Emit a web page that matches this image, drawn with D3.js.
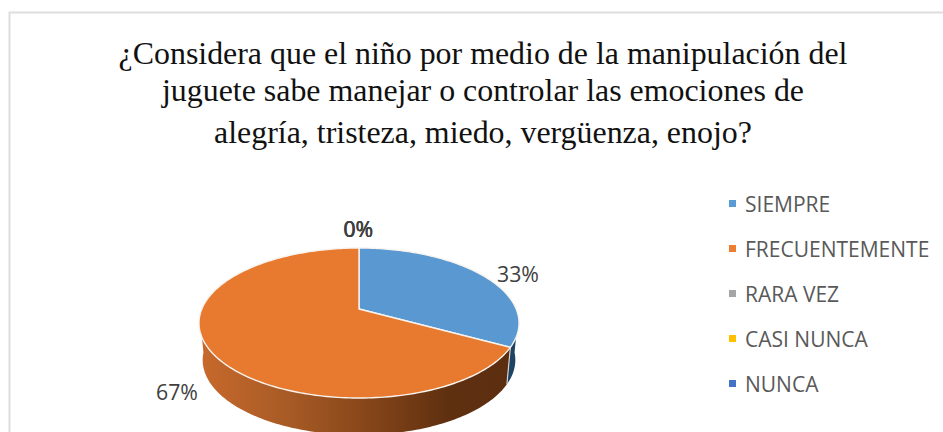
<!DOCTYPE html>
<html><head><meta charset="utf-8">
<script src="https://cdn.jsdelivr.net/npm/d3@7"></script>
<style>html,body{margin:0;padding:0;background:#fff;overflow:hidden}svg{display:block}</style>
</head><body><svg id="c" width="943" height="432"></svg>
<script>
const titleLines = ["¿Considera que el niño por medio de la manipulación del","juguete sabe manejar o controlar las emociones de","alegría, tristeza, miedo, vergüenza, enojo?"];
const categories = ["SIEMPRE","FRECUENTEMENTE","RARA VEZ","CASI NUNCA","NUNCA"];
const values = [33,67,0,0,0];
const colors = ["#5b9bd5","#ed7d31","#a5a5a5","#ffc000","#4472c4"];

const svg = d3.select("#c");
const cx = 359, apexY = 309, R = 157.2, A = 72.4, k = -0.1867, depth = 37, lowScale = 0.977;

function proj(a, h) {
  const x = Math.sin(a), y = -Math.cos(a), d = 1 + k * y;
  return [cx + R * (h ? lowScale : 1) * x / d, apexY + A * y / d + (h ? depth : 0)];
}
function arcPts(a0, a1, h) {
  const n = Math.max(2, Math.ceil(Math.abs(a1 - a0) / 0.02));
  return d3.range(n + 1).map(i => proj(a0 + (a1 - a0) * i / n, h));
}
const line = d3.line();
const arcs = d3.pie().sort(null).value(d => d)(values);

svg.append("rect").attr("x", 9.5).attr("y", 12.5).attr("width", 960).attr("height", 460)
  .attr("fill", "#fff").attr("stroke", "#dedede").attr("stroke-width", 2);

const title = svg.append("g").attr("font-family", "'Liberation Serif',serif").attr("font-size", 31.9).attr("fill", "#111").attr("text-anchor", "middle");
[[483, 64], [483, 100.5], [483, 143]].forEach((p, i) => title.append("text").attr("x", p[0]).attr("y", p[1]).text(titleLines[i]));

const defs = svg.append("defs");
const g1 = defs.append("linearGradient").attr("id", "wallO").attr("gradientUnits", "userSpaceOnUse").attr("x1", 199).attr("x2", 510).attr("y1", 0).attr("y2", 0);
[[0, "#c8692c"], [0.3, "#a65a25"], [0.55, "#854519"], [0.8, "#5f3010"], [1, "#5c2e10"]].forEach(s => g1.append("stop").attr("offset", s[0]).attr("stop-color", s[1]));

const tau = 2 * Math.PI;
arcs.forEach((d, i) => {
  if (d.endAngle - d.startAngle <= 0) return;
  const a0 = Math.max(d.startAngle, 1.66), a1 = Math.min(d.endAngle, tau - 1.66);
  if (a1 <= a0) return;
  const top = arcPts(a0, a1, false), bot = arcPts(a1, a0, true);
  svg.append("path").attr("d", line(top.concat(bot)) + "Z")
    .attr("fill", i === 0 ? "#1f4463" : "url(#wallO)");
});
const seam = arcs[0].endAngle;
svg.append("path").attr("d", line([proj(seam, false), proj(seam, true)])).attr("stroke", "#d9d9d9").attr("stroke-width", 1.1).attr("fill", "none");
arcs.forEach((d, i) => {
  if (d.endAngle - d.startAngle <= 0) return;
  const pts = [[cx, apexY]].concat(arcPts(d.startAngle, d.endAngle, false));
  svg.append("path").attr("d", line(pts) + "Z").attr("fill", d3.color(colors[i]).darker(0.06)).attr("stroke", "#f8f3ef").attr("stroke-width", 1.4).attr("stroke-linejoin", "round");
});

const lab = svg.append("g").attr("font-family", "'Open Sans',sans-serif").attr("font-size", 21.3).attr("fill", "#404040").attr("text-anchor", "middle");
const labelPos = [[518, 282], [177, 400], [358, 237], [358.3, 237], [358.6, 237]];
values.forEach((v, i) => lab.append("text").attr("x", labelPos[i][0]).attr("y", labelPos[i][1]).text(v + "%"));

const y = d3.scalePoint().domain(categories).range([204, 384]);
const leg = svg.append("g");
categories.forEach((c, i) => {
  leg.append("rect").attr("x", 729).attr("y", y(c) - 4).attr("width", 7).attr("height", 7).attr("fill", colors[i]);
  leg.append("text").attr("x", 745).attr("y", y(c) + 7.5).attr("font-family", "'Open Sans',sans-serif").attr("font-size", 21).attr("fill", "#595959").text(c);
});
</script></body></html>
